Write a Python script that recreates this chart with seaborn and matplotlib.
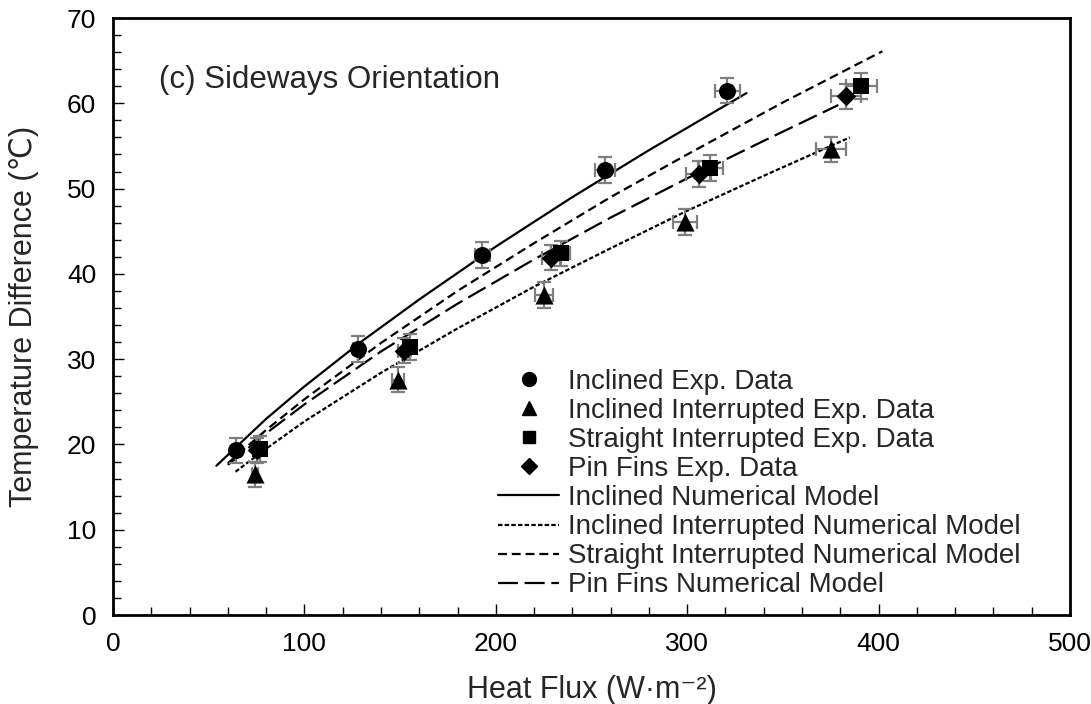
import numpy as np
import pandas as pd
import matplotlib
matplotlib.use("Agg")
import matplotlib.pyplot as plt
import seaborn as sns
from matplotlib.lines import Line2D
from matplotlib.ticker import MultipleLocator

incl_x = [64, 128, 193, 257, 321]
incl_y = [19.3, 31.2, 42.2, 52.2, 61.5]
incl_xerr = [1.3, 2.7, 4.0, 5.4, 6.7]

int_x = [74, 149, 225, 299, 375]
int_y = [16.5, 27.6, 37.5, 46.1, 54.6]
int_xerr = [1.6, 3.1, 4.7, 6.3, 7.9]

str_x = [77, 155, 234, 312, 391]
str_y = [19.5, 31.4, 42.4, 52.4, 62.0]
str_xerr = [1.6, 3.3, 4.9, 6.6, 8.2]

pin_x = [75, 152, 229, 306, 383]
pin_y = [19.3, 31.0, 41.9, 51.7, 60.8]
pin_xerr = [1.6, 3.2, 4.8, 6.4, 8.0]

yerr = [1.5, 1.5, 1.5, 1.5, 1.5]

# Numerical model curves
incl_mod_x = [54, 80, 100, 130, 160, 200, 240, 280, 331]
incl_mod_y = [17.5, 23.0, 26.8, 32.1, 37.0, 43.2, 49.0, 54.5, 61.2]

int_mod_x = [64, 80, 100, 140, 180, 220, 260, 300, 340, 385]
int_mod_y = [16.8, 19.5, 22.7, 28.4, 33.6, 38.5, 43.0, 47.4, 51.5, 56.0]

str_mod_x = [60, 80, 100, 140, 180, 220, 260, 300, 350, 402]
str_mod_y = [17.8, 21.7, 25.3, 31.9, 38.0, 43.6, 49.0, 54.0, 60.1, 66.1]

pin_mod_x = [60, 80, 100, 140, 180, 220, 260, 300, 340, 379]
pin_mod_y = [17.6, 21.3, 24.7, 30.9, 36.5, 41.7, 46.6, 51.2, 55.6, 59.8]

exp_names = ["Inclined Exp. Data", "Inclined Interrupted Exp. Data",
             "Straight Interrupted Exp. Data", "Pin Fins Exp. Data"]
mod_names = ["Inclined Numerical Model", "Inclined Interrupted Numerical Model",
             "Straight Interrupted Numerical Model", "Pin Fins Numerical Model"]

exp_df = pd.concat([
    pd.DataFrame({"x": incl_x, "y": incl_y, "xerr": incl_xerr, "yerr": yerr, "series": exp_names[0]}),
    pd.DataFrame({"x": int_x, "y": int_y, "xerr": int_xerr, "yerr": yerr, "series": exp_names[1]}),
    pd.DataFrame({"x": str_x, "y": str_y, "xerr": str_xerr, "yerr": yerr, "series": exp_names[2]}),
    pd.DataFrame({"x": pin_x, "y": pin_y, "xerr": pin_xerr, "yerr": yerr, "series": exp_names[3]}),
], ignore_index=True)

mod_df = pd.concat([
    pd.DataFrame({"x": incl_mod_x, "y": incl_mod_y, "series": mod_names[0]}),
    pd.DataFrame({"x": int_mod_x, "y": int_mod_y, "series": mod_names[1]}),
    pd.DataFrame({"x": str_mod_x, "y": str_mod_y, "series": mod_names[2]}),
    pd.DataFrame({"x": pin_mod_x, "y": pin_mod_y, "series": mod_names[3]}),
], ignore_index=True)

sns.set_theme(style="ticks")
plt.rcParams['font.family'] = ['Liberation Sans', 'DejaVu Sans']

fig = plt.figure(figsize=(10.91, 7.04), dpi=100)
ax = fig.add_axes([0.1036, 0.1264, 0.8771, 0.848])

markers = {exp_names[0]: "o", exp_names[1]: "^", exp_names[2]: "s", exp_names[3]: "D"}
msizes = {exp_names[0]: 150, exp_names[1]: 170, exp_names[2]: 140, exp_names[3]: 100}
dashes = {mod_names[0]: "", mod_names[1]: (2, 1),
          mod_names[2]: (4, 2.2), mod_names[3]: (9, 3)}

# model curves
sns.lineplot(data=mod_df, x="x", y="y", hue="series", style="series",
             palette=["black"] * 4, dashes=dashes, sort=False, estimator=None,
             linewidth=1.6, legend=False, ax=ax)

# error bars
for name in exp_names:
    sub = exp_df[exp_df["series"] == name]
    ax.errorbar(sub["x"], sub["y"], xerr=sub["xerr"], yerr=sub["yerr"],
                fmt="none", ecolor="#7f7f7f", elinewidth=1.6, capsize=5,
                capthick=1.6, zorder=3)

# markers
for name in exp_names:
    sub = exp_df[exp_df["series"] == name]
    sns.scatterplot(data=sub, x="x", y="y", marker=markers[name], s=msizes[name],
                    color="black", edgecolor="black", linewidth=0, zorder=4, ax=ax)

ax.set_xlim(0, 500)
ax.set_ylim(0, 70)
ax.xaxis.set_major_locator(MultipleLocator(100))
ax.xaxis.set_minor_locator(MultipleLocator(20))
ax.yaxis.set_major_locator(MultipleLocator(10))
ax.yaxis.set_minor_locator(MultipleLocator(2))
ax.tick_params(which="both", direction="in", colors="black", labelsize=19,
               top=False, right=False)
ax.tick_params(axis="x", which="major", length=8, width=1, pad=12)
ax.tick_params(axis="x", which="minor", length=6, width=1)
ax.tick_params(axis="y", which="major", length=8, width=1, pad=12)
ax.tick_params(axis="y", which="minor", length=6, width=1)
for sp in ax.spines.values():
    sp.set_visible(True)
    sp.set_color("black")
    sp.set_linewidth(2)

ax.set_xlabel("Heat Flux (W·m⁻²)", fontsize=22, labelpad=14)
ax.set_ylabel("Temperature Difference (℃)", fontsize=22, labelpad=20)
ax.text(24, 62.7, "(c) Sideways Orientation", fontsize=22.5, va="center", ha="left")

handles = [
    Line2D([], [], ls="none", marker="o", color="black", markersize=10),
    Line2D([], [], ls="none", marker="^", color="black", markersize=10),
    Line2D([], [], ls="none", marker="s", color="black", markersize=9),
    Line2D([], [], ls="none", marker="D", color="black", markersize=8),
    Line2D([], [], color="black", lw=1.6),
    Line2D([], [], color="black", lw=1.6, dashes=dashes[mod_names[1]]),
    Line2D([], [], color="black", lw=1.6, dashes=dashes[mod_names[2]]),
    Line2D([], [], color="black", lw=1.6, dashes=dashes[mod_names[3]]),
]
ax.legend(handles, exp_names + mod_names, loc="lower left",
          bbox_to_anchor=(0.385, 0.0), frameon=False, fontsize=20,
          handlelength=2.2, handletextpad=0.3, labelspacing=0.11,
          borderaxespad=0.2)

fig.savefig("out.png", dpi=100)
